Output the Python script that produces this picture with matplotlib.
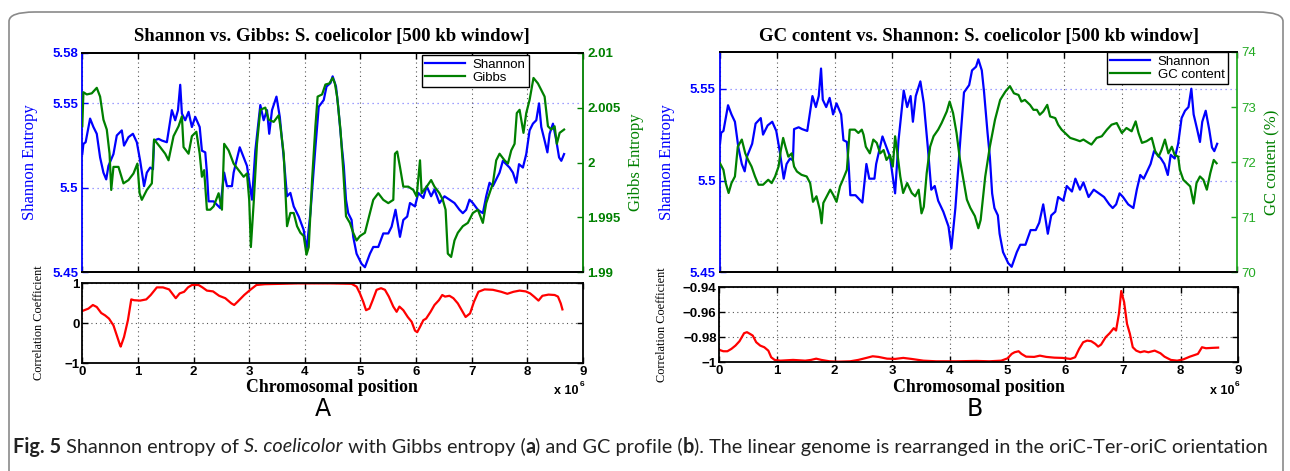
import matplotlib
matplotlib.use("Agg")
import matplotlib.pyplot as plt
from matplotlib.patches import FancyBboxPatch
from matplotlib import font_manager

# chromosomal position in Mb
shannon_pos = [0.00, 0.02, 0.06, 0.14, 0.20, 0.26, 0.32, 0.38, 0.43, 0.47, 0.56, 0.62, 0.71, 0.75, 0.83, 0.91,
               0.98, 1.04, 1.11, 1.16, 1.22, 1.27, 1.29, 1.37, 1.43, 1.52, 1.61, 1.67, 1.72, 1.76, 1.79, 1.85,
               1.91, 1.97, 2.03, 2.11, 2.15, 2.21, 2.24, 2.27, 2.36, 2.48, 2.55, 2.60, 2.69, 2.72, 2.83, 2.90,
               2.96, 3.05, 3.11, 3.20, 3.26, 3.32, 3.36, 3.41, 3.49, 3.55, 3.62, 3.68, 3.74, 3.80, 3.89, 3.98,
               4.03, 4.10, 4.19, 4.25, 4.34, 4.39, 4.46, 4.50, 4.56, 4.60, 4.66, 4.70, 4.74, 4.78, 4.84, 4.87,
               4.93, 5.02, 5.08, 5.17, 5.23, 5.32, 5.41, 5.50, 5.56, 5.63, 5.71, 5.77, 5.84, 5.89, 5.98, 6.04,
               6.13, 6.19, 6.27, 6.33, 6.42, 6.51, 6.60, 6.69, 6.78, 6.84, 6.90, 6.96, 7.02, 7.11, 7.20, 7.26,
               7.32, 7.38, 7.44, 7.50, 7.56, 7.62, 7.68, 7.74, 7.80, 7.85, 7.92, 7.98, 8.04, 8.10, 8.16, 8.21,
               8.25, 8.31, 8.36, 8.40, 8.46, 8.52, 8.57, 8.61, 8.66]
shannon_val = [5.520, 5.526, 5.527, 5.541, 5.536, 5.532, 5.518, 5.509, 5.505, 5.513, 5.520, 5.531, 5.534, 5.525, 5.530, 5.532,
               5.527, 5.516, 5.501, 5.509, 5.512, 5.511, 5.528, 5.529, 5.528, 5.527, 5.546, 5.540, 5.546, 5.561, 5.544, 5.540,
               5.545, 5.536, 5.542, 5.536, 5.522, 5.521, 5.509, 5.492, 5.492, 5.488, 5.509, 5.501, 5.501, 5.509, 5.524, 5.518,
               5.513, 5.493, 5.522, 5.549, 5.540, 5.546, 5.532, 5.546, 5.554, 5.542, 5.518, 5.495, 5.497, 5.489, 5.483, 5.475,
               5.463, 5.485, 5.524, 5.548, 5.552, 5.560, 5.562, 5.566, 5.560, 5.548, 5.526, 5.513, 5.493, 5.485, 5.481, 5.471,
               5.461, 5.455, 5.453, 5.461, 5.465, 5.465, 5.473, 5.473, 5.477, 5.487, 5.471, 5.481, 5.483, 5.491, 5.489, 5.497,
               5.494, 5.501, 5.495, 5.499, 5.491, 5.495, 5.493, 5.491, 5.487, 5.485, 5.487, 5.493, 5.491, 5.487, 5.485, 5.495,
               5.503, 5.501, 5.505, 5.509, 5.516, 5.514, 5.512, 5.509, 5.503, 5.514, 5.512, 5.520, 5.534, 5.538, 5.540, 5.550,
               5.536, 5.528, 5.521, 5.532, 5.538, 5.528, 5.518, 5.516, 5.520]

gibbs_pos = [0.00, 0.02, 0.08, 0.17, 0.26, 0.32, 0.38, 0.44, 0.49, 0.52, 0.56, 0.65, 0.74, 0.83, 0.92, 0.99,
             1.03, 1.07, 1.16, 1.25, 1.29, 1.40, 1.49, 1.55, 1.64, 1.73, 1.79, 1.82, 1.91, 1.97, 2.05, 2.11,
             2.15, 2.19, 2.24, 2.30, 2.36, 2.45, 2.51, 2.55, 2.63, 2.72, 2.81, 2.90, 2.96, 3.00, 3.03, 3.08,
             3.14, 3.20, 3.29, 3.35, 3.44, 3.53, 3.56, 3.62, 3.68, 3.74, 3.80, 3.86, 3.92, 3.98, 4.03, 4.07,
             4.13, 4.19, 4.23, 4.31, 4.37, 4.44, 4.50, 4.54, 4.58, 4.64, 4.69, 4.74, 4.81, 4.87, 4.93, 4.99,
             5.08, 5.17, 5.23, 5.32, 5.41, 5.50, 5.59, 5.62, 5.66, 5.71, 5.77, 5.86, 5.95, 6.01, 6.07, 6.10,
             6.19, 6.27, 6.33, 6.42, 6.48, 6.53, 6.57, 6.63, 6.69, 6.75, 6.84, 6.93, 7.02, 7.11, 7.20, 7.26,
             7.32, 7.38, 7.44, 7.50, 7.59, 7.65, 7.71, 7.77, 7.81, 7.86, 7.89, 7.93, 7.98, 8.04, 8.11, 8.19,
             8.25, 8.31, 8.37, 8.43, 8.49, 8.53, 8.58, 8.66]
gibbs_val = [2.0033, 2.0064, 2.0062, 2.0063, 2.0068, 2.0060, 2.0039, 2.0030, 2.0008, 1.9975, 1.9996, 1.9996, 1.9981, 1.9984, 1.9990, 1.9999,
             1.9972, 1.9966, 1.9975, 1.9981, 2.0021, 2.0014, 2.0008, 2.0002, 2.0024, 2.0033, 2.0042, 2.0014, 2.0008, 2.0024, 2.0028, 2.0008,
             1.9987, 1.9993, 1.9957, 1.9957, 1.9960, 1.9972, 1.9957, 2.0017, 2.0011, 1.9999, 1.9993, 1.9987, 1.9990, 1.9966, 1.9923, 1.9963,
             2.0017, 2.0048, 2.0050, 2.0039, 2.0037, 2.0043, 2.0033, 2.0008, 1.9942, 1.9954, 1.9954, 1.9942, 1.9936, 1.9933, 1.9916, 1.9923,
             1.9984, 2.0033, 2.0060, 2.0062, 2.0071, 2.0072, 2.0077, 2.0072, 2.0060, 2.0030, 1.9993, 1.9951, 1.9945, 1.9936, 1.9929, 1.9933,
             1.9936, 1.9954, 1.9966, 1.9972, 1.9966, 1.9963, 1.9966, 2.0008, 2.0010, 1.9996, 1.9978, 1.9978, 1.9975, 1.9969, 2.0002, 1.9972,
             1.9978, 1.9984, 1.9978, 1.9972, 1.9966, 1.9957, 1.9917, 1.9914, 1.9929, 1.9936, 1.9942, 1.9945, 1.9954, 1.9957, 1.9945, 1.9963,
             1.9972, 1.9981, 2.0002, 2.0008, 2.0002, 1.9999, 2.0011, 2.0017, 2.0045, 2.0048, 2.0039, 2.0027, 2.0045, 2.0057, 2.0077, 2.0072,
             2.0066, 2.0060, 2.0033, 2.0030, 2.0033, 2.0017, 2.0027, 2.0030]

gc_pos = [0.00, 0.06, 0.10, 0.15, 0.20, 0.26, 0.31, 0.38, 0.44, 0.49, 0.55, 0.61, 0.67, 0.75, 0.84, 0.90,
          0.96, 1.02, 1.06, 1.10, 1.14, 1.19, 1.25, 1.29, 1.34, 1.42, 1.51, 1.57, 1.62, 1.68, 1.74, 1.77,
          1.80, 1.86, 1.92, 1.97, 2.03, 2.09, 2.14, 2.21, 2.26, 2.35, 2.41, 2.47, 2.50, 2.54, 2.61, 2.67,
          2.73, 2.79, 2.85, 2.90, 2.96, 3.01, 3.05, 3.09, 3.14, 3.19, 3.26, 3.34, 3.40, 3.46, 3.51, 3.55,
          3.60, 3.66, 3.72, 3.80, 3.86, 3.95, 4.00, 4.06, 4.12, 4.18, 4.24, 4.30, 4.36, 4.44, 4.50, 4.54,
          4.62, 4.70, 4.79, 4.88, 4.97, 5.05, 5.12, 5.20, 5.25, 5.31, 5.40, 5.46, 5.52, 5.57, 5.63, 5.70,
          5.75, 5.84, 5.89, 5.95, 6.01, 6.10, 6.19, 6.27, 6.33, 6.42, 6.47, 6.56, 6.65, 6.74, 6.82, 6.91,
          7.00, 7.08, 7.17, 7.24, 7.29, 7.35, 7.43, 7.52, 7.58, 7.64, 7.69, 7.75, 7.81, 7.87, 7.92, 7.98,
          8.01, 8.07, 8.13, 8.19, 8.25, 8.30, 8.36, 8.42, 8.48, 8.54, 8.60, 8.65]
gc_val = [71.98, 71.86, 71.62, 71.44, 71.62, 71.74, 72.28, 72.41, 72.16, 72.04, 71.92, 71.74, 71.59, 71.59, 71.68, 71.62,
          71.74, 71.92, 72.22, 72.44, 72.28, 72.10, 72.16, 71.92, 71.83, 71.77, 71.74, 71.62, 71.28, 71.38, 71.13, 70.89,
          71.26, 71.38, 71.50, 71.41, 71.28, 71.56, 71.68, 71.86, 72.59, 72.59, 72.53, 72.59, 72.50, 72.28, 72.16, 72.41,
          72.35, 72.16, 72.22, 72.04, 72.13, 71.92, 72.47, 72.16, 71.74, 71.44, 71.62, 71.44, 71.38, 71.50, 71.07, 71.19,
          71.80, 72.28, 72.47, 72.59, 72.71, 72.92, 73.10, 72.89, 72.53, 72.04, 71.68, 71.32, 71.17, 71.02, 70.80, 70.95,
          71.74, 72.28, 72.77, 73.13, 73.28, 73.38, 73.25, 73.22, 73.10, 73.13, 73.04, 72.95, 72.95, 72.86, 72.92, 73.04,
          72.83, 72.80, 72.68, 72.59, 72.53, 72.44, 72.41, 72.38, 72.41, 72.35, 72.32, 72.44, 72.47, 72.59, 72.68, 72.71,
          72.53, 72.62, 72.56, 72.74, 72.53, 72.35, 72.38, 72.44, 72.20, 72.10, 72.22, 72.41, 72.16, 72.28, 72.13, 72.10,
          71.86, 71.68, 71.62, 71.56, 71.25, 71.62, 71.74, 71.68, 71.50, 71.80, 72.04, 71.98]

corr_a_pos = [0.00, 0.11, 0.19, 0.26, 0.34, 0.41, 0.48, 0.56, 0.62, 0.67, 0.69, 0.75, 0.82, 0.88, 0.93, 1.04,
              1.15, 1.23, 1.34, 1.45, 1.56, 1.68, 1.75, 1.83, 1.90, 1.97, 2.09, 2.16, 2.24, 2.35, 2.46, 2.57,
              2.68, 2.73, 2.79, 2.91, 3.02, 3.13, 3.28, 3.58, 3.87, 4.47, 4.84, 4.93, 4.99, 5.05, 5.10, 5.16,
              5.22, 5.29, 5.37, 5.44, 5.51, 5.59, 5.65, 5.70, 5.77, 5.85, 5.92, 5.98, 6.02, 6.07, 6.13, 6.18,
              6.26, 6.33, 6.41, 6.47, 6.52, 6.60, 6.67, 6.75, 6.82, 6.89, 6.97, 7.04, 7.12, 7.23, 7.38, 7.53,
              7.64, 7.75, 7.86, 7.97, 8.05, 8.12, 8.20, 8.27, 8.38, 8.49, 8.55, 8.60, 8.63]
corr_a_val = [0.30, 0.36, 0.45, 0.40, 0.25, 0.19, 0.11, -0.06, -0.31, -0.52, -0.59, -0.35, 0.07, 0.59, 0.57, 0.56,
              0.59, 0.70, 0.89, 0.89, 0.84, 0.62, 0.74, 0.78, 0.89, 0.95, 0.95, 0.89, 0.81, 0.79, 0.68, 0.62,
              0.49, 0.45, 0.53, 0.70, 0.83, 0.95, 0.97, 0.98, 0.99, 0.99, 0.98, 0.91, 0.74, 0.53, 0.32, 0.36,
              0.57, 0.83, 0.87, 0.83, 0.66, 0.41, 0.28, 0.41, 0.32, 0.15, 0.03, -0.19, -0.23, -0.10, 0.07, 0.11,
              0.28, 0.45, 0.57, 0.70, 0.66, 0.68, 0.62, 0.49, 0.32, 0.15, 0.24, 0.53, 0.78, 0.84, 0.83, 0.78,
              0.73, 0.78, 0.81, 0.79, 0.74, 0.66, 0.56, 0.68, 0.71, 0.70, 0.66, 0.49, 0.34]

corr_b_pos = [0.00, 0.07, 0.14, 0.21, 0.28, 0.35, 0.43, 0.48, 0.53, 0.58, 0.64, 0.71, 0.78, 0.85, 0.90, 0.96,
              1.06, 1.28, 1.49, 1.59, 1.68, 1.77, 1.91, 2.06, 2.27, 2.41, 2.55, 2.66, 2.76, 2.91, 3.05, 3.19,
              3.33, 3.54, 3.76, 4.11, 4.46, 4.68, 4.89, 5.00, 5.07, 5.12, 5.19, 5.24, 5.32, 5.46, 5.56, 5.67,
              5.81, 5.95, 6.09, 6.17, 6.24, 6.31, 6.38, 6.45, 6.52, 6.57, 6.62, 6.70, 6.77, 6.84, 6.88, 6.93,
              6.97, 7.02, 7.07, 7.12, 7.17, 7.23, 7.30, 7.37, 7.44, 7.55, 7.65, 7.72, 7.83, 7.94, 8.05, 8.16,
              8.30, 8.37, 8.44, 8.55, 8.65]
corr_b_val = [-0.9901, -0.9912, -0.9912, -0.9893, -0.9867, -0.9832, -0.9768, -0.9760, -0.9773, -0.9787, -0.9840, -0.9867,
              -0.9880, -0.9907, -0.9960, -0.9981, -0.9987, -0.9981, -0.9987, -0.9981, -0.9971, -0.9981, -0.9992, -0.9995,
              -0.9992, -0.9981, -0.9965, -0.9952, -0.9957, -0.9971, -0.9973, -0.9965, -0.9973, -0.9987, -0.9992, -0.9992,
              -0.9989, -0.9992, -0.9987, -0.9968, -0.9933, -0.9920, -0.9912, -0.9933, -0.9955, -0.9957, -0.9947, -0.9957,
              -0.9963, -0.9965, -0.9973, -0.9960, -0.9893, -0.9840, -0.9827, -0.9832, -0.9853, -0.9875, -0.9859, -0.9800,
              -0.9768, -0.9728, -0.9747, -0.9613, -0.9432, -0.9520, -0.9693, -0.9773, -0.9880, -0.9907, -0.9920, -0.9912,
              -0.9920, -0.9907, -0.9928, -0.9955, -0.9981, -0.9987, -0.9976, -0.9955, -0.9933, -0.9880, -0.9888, -0.9885,
              -0.9883]

x_ticks = [0, 1, 2, 3, 4, 5, 6, 7, 8, 9]
shannon_ticks_a = [5.45, 5.5, 5.55, 5.58]
shannon_labels_a = ["5.45", "5.5", "5.55", "5.58"]
gibbs_ticks = [1.99, 1.995, 2.0, 2.005, 2.01]
gibbs_labels = ["1.99", "1.995", "2", "2.005", "2.01"]
shannon_ticks_b = [5.45, 5.5, 5.55]
shannon_labels_b = ["5.45", "5.5", "5.55"]
gc_ticks = [70, 71, 72, 73, 74]
gc_labels = ["70", "71", "72", "73", "74"]
corr_a_ticks = [-1, 0, 1]
corr_a_labels = ["\u22121", "0", "1"]
corr_b_ticks = [-1, -0.98, -0.96, -0.94]
corr_b_labels = ["\u22121", "\u22120.98", "\u22120.96", "\u22120.94"]

BLUE = "#0000ff"
GREEN = "#008000"
RED = "#ff0000"
SERIF = "Liberation Serif"
SANS = "Liberation Sans"
TICK_FS = 9.5

W, H = 1290, 471


def rect(l, t, r, b):
    return [l / W, 1 - b / H, (r - l) / W, (b - t) / H]


def style_top(ax, ax2, ylim, yt, ytl, ylim2, yt2, ytl2, c2, bold2):
    ax.set_xlim(0, 9)
    ax.set_ylim(*ylim)
    ax2.set_ylim(*ylim2)
    ax.set_xticks(x_ticks)
    ax.tick_params(axis="x", which="both", direction="in", top=True, labelbottom=False, length=4, width=1)
    ax.set_yticks(yt)
    ax.set_yticklabels(ytl, fontfamily=SANS, fontweight="bold", fontsize=TICK_FS, color=BLUE)
    ax.tick_params(axis="y", direction="in", color=BLUE, length=4, width=1, pad=3)
    ax2.set_yticks(yt2)
    ax2.set_yticklabels(ytl2, fontfamily=SANS, fontweight="bold" if bold2 else "normal",
                        fontsize=TICK_FS, color=c2)
    ax2.tick_params(axis="y", direction="in", color=c2, length=4, width=1, pad=3)
    ax.xaxis.grid(True, ls=(0, (1, 3)), color="#555555", lw=0.8)
    for v in yt:
        if ylim[0] < v < ylim[1] - 0.005:
            ax.axhline(v, ls=(0, (1, 3)), color="#8080ff", lw=0.9, zorder=0)
    ax.spines["left"].set_color(BLUE)
    ax.spines["right"].set_visible(False)
    ax2.spines["left"].set_visible(False)
    ax2.spines["right"].set_color(c2)
    for a in (ax, ax2):
        for s in a.spines.values():
            s.set_linewidth(1.3)


def style_bottom(ax, ylim, yt, ytl):
    ax.set_xlim(0, 9)
    ax.set_ylim(*ylim)
    ax.set_xticks(x_ticks)
    ax.set_xticklabels([str(t) for t in x_ticks], fontfamily=SANS, fontweight="bold", fontsize=TICK_FS)
    ax.set_yticks(yt)
    ax.set_yticklabels(ytl, fontfamily=SANS, fontweight="bold", fontsize=TICK_FS)
    ax.tick_params(direction="in", top=True, right=True, length=4, width=1, pad=2)
    ax.grid(True, ls=(0, (1, 3)), color="#555555", lw=0.8)
    for s in ax.spines.values():
        s.set_linewidth(1.3)


fig = plt.figure(figsize=(W / 100, H / 100), dpi=100)

# frame around the figure
fig.patches.append(FancyBboxPatch((9 / W, -0.05), 1274 / W, 1 - 12 / H + 0.05,
                                  boxstyle="round,pad=0,rounding_size=0.02", transform=fig.transFigure,
                                  fc="none", ec="#8a8a8a", lw=1.2))

# ---- panel A top
axA = fig.add_axes(rect(82.3, 52.7, 583, 272.3))
axA2 = axA.twinx()
lA1, = axA.plot(shannon_pos, shannon_val, color=BLUE, lw=1.6, label="Shannon")
lA2, = axA2.plot(gibbs_pos, gibbs_val, color=GREEN, lw=1.6, label="Gibbs")
style_top(axA, axA2, (5.45, 5.58), shannon_ticks_a, shannon_labels_a,
          (1.99, 2.01), gibbs_ticks, gibbs_labels, GREEN, True)
axA.set_ylabel("Shannon Entropy", fontfamily=SERIF, fontsize=12, color=BLUE)
axA.yaxis.set_label_coords(-0.089, 0.5)
axA2.set_ylabel("Gibbs Entropy", fontfamily=SERIF, fontsize=12, color=GREEN)
axA2.yaxis.set_label_coords(1.09, 0.5)
legA = axA2.legend([lA1, lA2], ["Shannon", "Gibbs"], loc="upper left",
                   bbox_to_anchor=(422 / W, 1 - 55 / H), bbox_transform=fig.transFigure,
                   fancybox=False, edgecolor="black", framealpha=1, borderaxespad=0,
                   prop={"family": SANS, "size": 9.5}, handlelength=3.0, borderpad=0.25,
                   labelspacing=0.1, handletextpad=0.6)
legA.get_frame().set_linewidth(1.0)
fig.text(332 / W, 1 - 37 / H, "Shannon vs. Gibbs: S. coelicolor [500 kb window]",
         fontfamily=SERIF, fontweight="bold", fontsize=13.5, ha="center", va="center")

# ---- panel A bottom
axAc = fig.add_axes(rect(82.3, 283, 583, 363))
axAc.plot(corr_a_pos, corr_a_val, color=RED, lw=1.6)
style_bottom(axAc, (-1, 1), corr_a_ticks, corr_a_labels)
axAc.set_ylabel("Correlation Coefficient", fontfamily=SERIF, fontsize=8.8)
axAc.yaxis.set_label_coords(-0.074, 0.5)

# ---- panel B top
axB = fig.add_axes(rect(720, 52, 1236.7, 272.3))
axB2 = axB.twinx()
lB1, = axB.plot(shannon_pos, shannon_val, color=BLUE, lw=1.6, label="Shannon")
lB2, = axB2.plot(gc_pos, gc_val, color=GREEN, lw=1.6, label="GC content")
style_top(axB, axB2, (5.45, 5.57), shannon_ticks_b, shannon_labels_b,
          (70, 74), gc_ticks, gc_labels, "#22aa22", False)
axB.set_ylabel("Shannon Entropy", fontfamily=SERIF, fontsize=12, color=BLUE)
axB.yaxis.set_label_coords(-0.087, 0.5)
axB2.set_ylabel("GC content (%)", fontfamily=SERIF, fontsize=12, color=GREEN)
axB2.yaxis.set_label_coords(1.053, 0.5)
legB = axB2.legend([lB1, lB2], ["Shannon", "GC content"], loc="upper left",
                   bbox_to_anchor=(1107 / W, 1 - 52 / H), bbox_transform=fig.transFigure,
                   fancybox=False, edgecolor="black", framealpha=1, borderaxespad=0,
                   prop={"family": SANS, "size": 9.5}, handlelength=3.0, borderpad=0.25,
                   labelspacing=0.1, handletextpad=0.6)
legB.get_frame().set_linewidth(1.0)
fig.text(979 / W, 1 - 37 / H, "GC content vs. Shannon: S. coelicolor [500 kb window]",
         fontfamily=SERIF, fontweight="bold", fontsize=13.5, ha="center", va="center")

# ---- panel B bottom
axBc = fig.add_axes(rect(719.3, 287, 1238.3, 362.3))
axBc.plot(corr_b_pos, corr_b_val, color=RED, lw=1.6)
style_bottom(axBc, (-1, -0.94), corr_b_ticks, corr_b_labels)
axBc.set_ylabel("Correlation Coefficient", fontfamily=SERIF, fontsize=8.8)
axBc.yaxis.set_label_coords(-0.099, 0.5)

# x labels, exponent, panel letters
for cx, right in ((332, 583), (979, 1238)):
    fig.text(cx / W, 1 - 388 / H, "Chromosomal position", fontfamily=SERIF, fontweight="bold",
             fontsize=12.8, ha="center", va="center")
    fig.text((right - 4) / W, 1 - 391 / H, "x 10", fontfamily=SANS, fontweight="bold",
             fontsize=9, ha="right", va="center")
    fig.text((right - 3.5) / W, 1 - 384 / H, "6", fontfamily=SANS, fontweight="bold",
             fontsize=6, ha="left", va="center")
fig.text(323 / W, 1 - 409 / H, "A", fontfamily="DejaVu Sans", fontsize=17, ha="center", va="center")
fig.text(975 / W, 1 - 409 / H, "B", fontfamily="DejaVu Sans", fontsize=17, ha="center", va="center")

# caption, built from pieces so the bold and italic parts line up
names = {f.name for f in font_manager.fontManager.ttflist}
cap_font = "Liberation Sans Narrow" if "Liberation Sans Narrow" in names else "Lato"
pieces = [("Fig. 5", "bold", "normal"),
          (" Shannon entropy of ", "normal", "normal"),
          ("S. coelicolor", "normal", "italic"),
          (" with Gibbs entropy (", "normal", "normal"),
          ("a", "bold", "normal"),
          (") and GC profile (", "normal", "normal"),
          ("b", "bold", "normal"),
          ("). The linear genome is rearranged in the oriC-Ter-oriC orientation", "normal", "normal")]
cap_texts = [fig.text(0, 1 - 447 / H, s, fontfamily=cap_font, fontweight=w, fontstyle=st,
                      fontsize=11, va="center", ha="left", color="#222222")
             for s, w, st in pieces]
fig.canvas.draw()
rend = fig.canvas.get_renderer()
total = sum(t.get_window_extent(rend).width for t in cap_texts)
size = 11 * 1252 / total
for t in cap_texts:
    t.set_fontsize(size)
fig.canvas.draw()
xpos = 13
for t in cap_texts:
    t.set_x(xpos / W)
    xpos += t.get_window_extent(rend).width

fig.savefig("out.png", dpi=100)
